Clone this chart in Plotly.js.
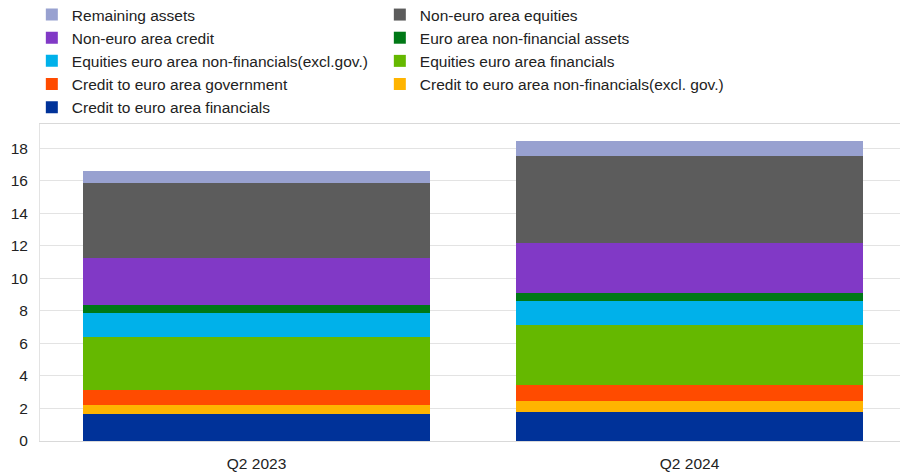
<!DOCTYPE html>
<html>
<head>
<meta charset="utf-8">
<script src="https://cdn.plot.ly/plotly-3.0.1.min.js"></script>
<style>html,body{margin:0;padding:0;background:#fff;}#chart{width:900px;height:473px;}</style>
</head>
<body>
<div id="chart"></div>
<script>
const categories = ["Q2 2023", "Q2 2024"];

const seriesNames = [
  "Credit to euro area financials",
  "Credit to euro area non-financials(excl. gov.)",
  "Credit to euro area government",
  "Equities euro area financials",
  "Equities euro area non-financials(excl.gov.)",
  "Euro area non-financial assets",
  "Non-euro area credit",
  "Non-euro area equities",
  "Remaining assets"
];

const creditFinancials    = [1.64, 1.80];
const creditNonFinancials = [0.57, 0.66];
const creditGovernment    = [0.91, 0.96];
const equitiesFinancials  = [3.30, 3.71];
const equitiesNonFin      = [1.43, 1.46];
const nonFinancialAssets  = [0.50, 0.53];
const nonEuroCredit       = [2.92, 3.06];
const nonEuroEquities     = [4.58, 5.37];
const remainingAssets     = [0.77, 0.92];

const seriesValues = [creditFinancials, creditNonFinancials, creditGovernment,
  equitiesFinancials, equitiesNonFin, nonFinancialAssets, nonEuroCredit,
  nonEuroEquities, remainingAssets];

const seriesColors = ["#003299", "#ffb400", "#ff4b00", "#65b800", "#00b1ea",
  "#007816", "#8139c6", "#5c5c5c", "#98a1d0"];

const traces = seriesNames.map((name, i) => ({
  type: "bar",
  name: name,
  x: categories,
  y: seriesValues[i],
  marker: {color: seriesColors[i], line: {width: 0}},
  width: 0.8,
  hoverinfo: "name+y"
}));

const font = {family: "Liberation Sans, Arial, sans-serif", size: 15.5, color: "#222222"};

const layout = {
  width: 900,
  height: 473,
  barmode: "stack",
  paper_bgcolor: "#ffffff",
  plot_bgcolor: "#ffffff",
  font: font,
  margin: {l: 40, r: 0, t: 124, b: 32, pad: 0, autoexpand: false},
  showlegend: true,
  legend: {
    orientation: "h",
    traceorder: "reversed",
    x: -0.0095, xanchor: "left",
    y: 1.3975, yref: "paper", yanchor: "top",
    entrywidth: 303, entrywidthmode: "pixels",
    font: {family: "Liberation Sans, Arial, sans-serif", size: 15.5, color: "#222222"},
    bgcolor: "rgba(0,0,0,0)",
    tracegroupgap: 0,
    itemclick: false
  },
  xaxis: {
    type: "category",
    range: [-0.5, 1.486],
    showgrid: false,
    showline: true,
    linecolor: "#d9d9d9",
    linewidth: 1,
    mirror: true,
    ticks: "",
    ticklabelstandoff: 8,
    zeroline: false,
    fixedrange: true
  },
  yaxis: {
    range: [0, 19.5],
    tick0: 0,
    dtick: 2,
    showgrid: true,
    gridcolor: "#e3e3e3",
    gridwidth: 1,
    showline: true,
    linecolor: "#e3e3e3",
    linewidth: 1,
    zeroline: true,
    zerolinecolor: "#d9d9d9",
    zerolinewidth: 1,
    ticks: "",
    ticklabelstandoff: 8,
    fixedrange: true
  }
};

Plotly.newPlot("chart", traces, layout, {displayModeBar: false, staticPlot: true});
</script>
</body>
</html>
